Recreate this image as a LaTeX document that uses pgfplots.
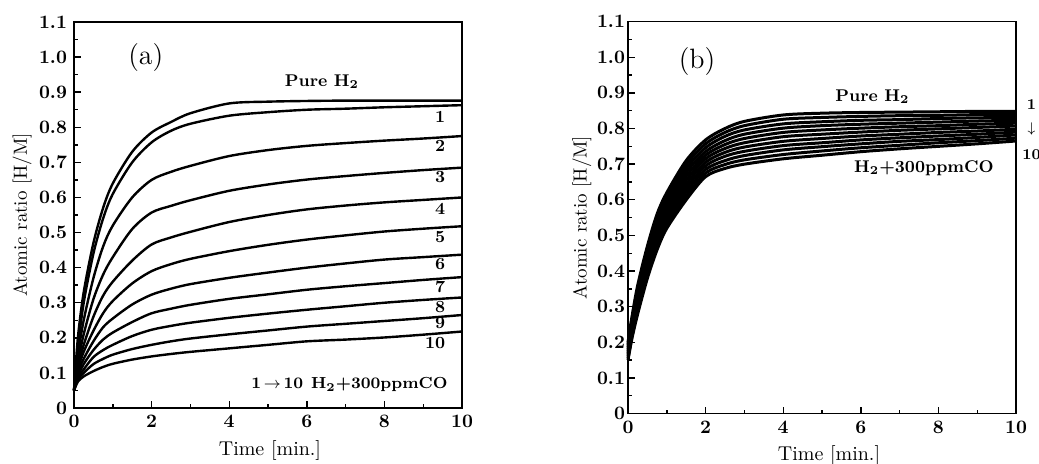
\documentclass[border=0pt]{standalone}
\usepackage{pgfplots}
\usepackage{pgfplotstable}
\pgfplotsset{compat=1.18}

\pgfplotstableread{
x     p     c1    c2    c3    c4    c5    c6    c7    c8    c9    c10
0     0.05  0.05  0.05  0.05  0.05  0.05  0.05  0.05  0.05  0.05  0.05
0.1   0.20  0.17  0.15  0.13  0.12  0.11  0.10  0.09  0.085 0.08  0.075
0.25  0.33  0.30  0.25  0.21  0.18  0.16  0.14  0.125 0.11  0.10  0.09
0.5   0.47  0.44  0.37  0.31  0.26  0.22  0.19  0.165 0.145 0.125 0.105
0.75  0.57  0.54  0.46  0.38  0.32  0.27  0.23  0.195 0.165 0.14  0.117
1     0.64  0.61  0.52  0.43  0.36  0.305 0.255 0.215 0.18  0.152 0.126
1.5   0.73  0.70  0.60  0.51  0.42  0.355 0.295 0.245 0.205 0.168 0.138
2     0.785 0.757 0.65  0.557 0.466 0.39  0.323 0.27  0.223 0.18  0.147
2.5   0.815 0.79  0.673 0.576 0.486 0.41  0.34  0.283 0.234 0.19  0.154
3     0.84  0.81  0.69  0.592 0.502 0.425 0.353 0.294 0.243 0.198 0.16
4     0.868 0.833 0.718 0.619 0.53  0.447 0.371 0.311 0.257 0.21  0.17
5     0.873 0.843 0.735 0.637 0.55  0.465 0.386 0.324 0.269 0.221 0.18
6     0.875 0.85  0.747 0.651 0.566 0.48  0.40  0.337 0.28  0.232 0.19
7     0.876 0.853 0.755 0.661 0.577 0.492 0.412 0.347 0.29  0.24  0.195
8     0.876 0.857 0.762 0.67  0.586 0.503 0.423 0.356 0.30  0.248 0.201
9     0.876 0.86  0.768 0.678 0.593 0.511 0.43  0.365 0.308 0.256 0.209
10    0.876 0.863 0.775 0.685 0.60  0.518 0.437 0.373 0.315 0.265 0.218
}\dataA

\pgfplotstableread{
x    p     c1    c2    c3    c4    c5    c6    c7    c8    c9    c10
0    0.20  0.195 0.19  0.185 0.18  0.175 0.17  0.165 0.16  0.155 0.15
0.1  0.27  0.264 0.258 0.252 0.246 0.24  0.234 0.228 0.222 0.216 0.21
0.25 0.36  0.352 0.344 0.336 0.328 0.32  0.312 0.304 0.296 0.288 0.28
0.5  0.47  0.461 0.452 0.443 0.434 0.425 0.416 0.407 0.398 0.389 0.38
0.75 0.56  0.55  0.54  0.53  0.52  0.51  0.50  0.49  0.48  0.47  0.46
1    0.62  0.61  0.60  0.59  0.58  0.57  0.56  0.55  0.54  0.53  0.52
1.5  0.71  0.699 0.688 0.677 0.666 0.655 0.644 0.633 0.622 0.611 0.60
2    0.768 0.757 0.746 0.735 0.725 0.715 0.705 0.695 0.685 0.675 0.665
2.5  0.80  0.789 0.778 0.766 0.755 0.744 0.733 0.722 0.710 0.699 0.688
3    0.82  0.808 0.796 0.784 0.772 0.76  0.748 0.736 0.724 0.712 0.70
4    0.838 0.826 0.813 0.801 0.789 0.777 0.764 0.752 0.740 0.727 0.715
5    0.843 0.831 0.819 0.808 0.796 0.784 0.772 0.76  0.749 0.737 0.725
6    0.845 0.834 0.823 0.812 0.801 0.79  0.779 0.768 0.757 0.746 0.735
7    0.846 0.836 0.825 0.815 0.805 0.795 0.784 0.774 0.764 0.753 0.743
8    0.847 0.837 0.828 0.818 0.808 0.799 0.789 0.779 0.769 0.76  0.75
9    0.848 0.839 0.83  0.821 0.812 0.803 0.793 0.784 0.775 0.766 0.757
10   0.848 0.84  0.831 0.823 0.815 0.807 0.798 0.79  0.782 0.773 0.765
}\dataB

\pgfplotsset{
  panel/.style={
    scale only axis,
    width=194pt,
    xmin=0, xmax=10, ymin=0, ymax=1.1,
    xtick={0,2,4,6,8,10},
    xticklabels={0,2,4,6,8,10},
    minor xtick={1,3,5,7,9},
    ytick={0,0.1,0.2,0.3,0.4,0.5,0.6,0.7,0.8,0.9,1.0,1.1},
    yticklabels={0,0.1,0.2,0.3,0.4,0.5,0.6,0.7,0.8,0.9,1.0,1.1},
    minor y tick num=1,
    tick align=inside,
    xtick pos=bottom, ytick pos=left,
    major tick length=3.5pt, minor tick length=2pt,
    every tick/.style={black, line width=0.7pt},
    axis line style={line width=0.8pt},
    ticklabel style={font=\fontsize{9.5}{11}\selectfont\bfseries},
    xlabel={Time [min.]},
    ylabel={Atomic ratio [H/M]},
    xlabel style={font=\fontsize{10}{12}\selectfont},
    ylabel style={font=\fontsize{9.5}{11}\selectfont},
    clip=false,
  },
}

\begin{document}
\begin{tikzpicture}
\useasboundingbox (0,0) rectangle (519.5pt,231.5pt);

\begin{axis}[panel, at={(37pt,27.5pt)}, anchor=south west, height=193pt,
  xlabel style={at={(axis description cs:0.505,0)}, anchor=center, yshift=-21pt},
  ylabel style={at={(axis description cs:-0.134,0.5)}, anchor=center},
]
\pgfplotsinvokeforeach{p,c1,c2,c3,c4,c5,c6,c7,c8,c9,c10}{
  \addplot[black, line width=1.2pt, smooth] table[x=x, y=#1]{\dataA};
}
\node[font=\fontsize{14}{16}\selectfont] at (axis cs:1.85,1.0) {(a)};
\node[font=\fontsize{8.5}{10}\selectfont\bfseries] at (axis cs:6.39,0.93) {Pure H$_{\mathbf{2}}$};
\node[font=\fontsize{8.5}{10}\selectfont\bfseries, anchor=east] at (axis cs:9.75,0.83) {1};
\node[font=\fontsize{8.5}{10}\selectfont\bfseries, anchor=east] at (axis cs:9.75,0.746) {2};
\node[font=\fontsize{8.5}{10}\selectfont\bfseries, anchor=east] at (axis cs:9.75,0.657) {3};
\node[font=\fontsize{8.5}{10}\selectfont\bfseries, anchor=east] at (axis cs:9.75,0.568) {4};
\node[font=\fontsize{8.5}{10}\selectfont\bfseries, anchor=east] at (axis cs:9.75,0.486) {5};
\node[font=\fontsize{8.5}{10}\selectfont\bfseries, anchor=east] at (axis cs:9.75,0.411) {6};
\node[font=\fontsize{8.5}{10}\selectfont\bfseries, anchor=east] at (axis cs:9.75,0.346) {7};
\node[font=\fontsize{8.5}{10}\selectfont\bfseries, anchor=east] at (axis cs:9.75,0.289) {8};
\node[font=\fontsize{8.5}{10}\selectfont\bfseries, anchor=east] at (axis cs:9.75,0.243) {9};
\node[font=\fontsize{8.5}{10}\selectfont\bfseries, anchor=east] at (axis cs:9.75,0.186) {10};
\node[font=\fontsize{8}{10}\selectfont\bfseries, anchor=center] at (axis cs:7.1,0.066) {1\,$\rightarrow$\,10\enspace H$_{\mathbf{2}}$+300ppmCO};
\end{axis}

\begin{axis}[panel, at={(314pt,24.7pt)}, anchor=south west, height=196pt,
  yticklabel style={xshift=2pt},
  xlabel style={at={(axis description cs:0.518,0)}, anchor=center, yshift=-21pt},
  ylabel style={at={(axis description cs:-0.119,0.5)}, anchor=center},
]
\pgfplotsinvokeforeach{p,c1,c2,c3,c4,c5,c6,c7,c8,c9,c10}{
  \addplot[black, line width=1.5pt, smooth] table[x=x, y=#1]{\dataB};
}
\node[font=\fontsize{14}{16}\selectfont] at (axis cs:1.78,0.988) {(b)};
\node[font=\fontsize{8.5}{10}\selectfont\bfseries] at (axis cs:6.3,0.89) {Pure H$_{\mathbf{2}}$};
\node[font=\fontsize{8.5}{10}\selectfont\bfseries] at (axis cs:7.63,0.69) {H$_{\mathbf{2}}$+300ppmCO};
\node[font=\fontsize{7.5}{9}\selectfont\bfseries] at (axis cs:10.4,0.867) {1};
\node[font=\fontsize{7.5}{9}\selectfont\bfseries] at (axis cs:10.4,0.80) {$\downarrow$};
\node[font=\fontsize{7.5}{9}\selectfont\bfseries] at (axis cs:10.4,0.726) {10};
\end{axis}
\end{tikzpicture}
\end{document}
